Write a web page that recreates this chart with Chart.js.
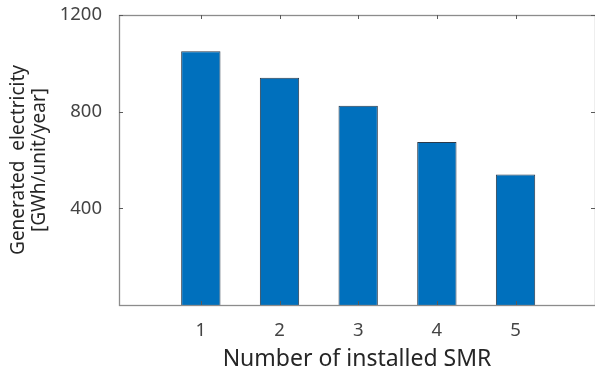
<!DOCTYPE html>
<html>
<head>
<meta charset="utf-8">
<script src="https://cdn.jsdelivr.net/npm/chart.js@4/dist/chart.umd.min.js"></script>
<style>
  html, body { margin: 0; padding: 0; background: #ffffff; }
  #wrap { width: 595px; height: 374px; }
</style>
</head>
<body>
<div id="wrap"><canvas id="c" width="595" height="374"></canvas></div>
<script>
// Installed SMR count vs. electricity generated per unit
const smrCounts = [1, 2, 3, 4, 5];
const generation = [1050, 940, 825, 675, 540];
const yTickValues = [400, 800, 1200];
const xTickValues = [1, 2, 3, 4, 5];

const FONT = '"Noto Sans", "DejaVu Sans", sans-serif';
const AXIS_COLOR = '#8c8c8c';
const TICK_LEN = 4;

// Box around the plot area with inward ticks on all four sides
const boxPlugin = {
  id: 'boxAxes',
  afterDatasetsDraw(chart) {
    const { ctx, chartArea: a, scales: { x, y } } = chart;
    ctx.save();
    ctx.strokeStyle = AXIS_COLOR;
    ctx.lineWidth = 1.3;
    ctx.strokeRect(a.left + 0.5, a.top + 0.5, a.right - a.left, a.bottom - a.top);
    ctx.strokeStyle = '#5a5a5a';
    ctx.lineWidth = 1;
    ctx.beginPath();
    xTickValues.forEach(v => {
      const px = Math.round(x.getPixelForValue(v)) + 0.5;
      ctx.moveTo(px, a.bottom); ctx.lineTo(px, a.bottom - TICK_LEN);
      ctx.moveTo(px, a.top); ctx.lineTo(px, a.top + TICK_LEN);
    });
    yTickValues.forEach(v => {
      const py = Math.round(y.getPixelForValue(v)) + 0.5;
      ctx.moveTo(a.left, py); ctx.lineTo(a.left + TICK_LEN, py);
      ctx.moveTo(a.right, py); ctx.lineTo(a.right - TICK_LEN, py);
    });
    ctx.stroke();
    ctx.restore();
  }
};

new Chart(document.getElementById('c'), {
  type: 'bar',
  data: {
    datasets: [{
      data: smrCounts.map((n, i) => ({ x: n, y: generation[i] })),
      backgroundColor: '#0070BD',
      borderColor: '#2b3a4a',
      borderWidth: 1,
      barPercentage: 1,
      categoryPercentage: 0.5
    }]
  },
  options: {
    responsive: false,
    animation: false,
    events: [],
    layout: { padding: { top: 15, right: 0, bottom: 0, left: 0 } },
    plugins: { legend: { display: false }, tooltip: { enabled: false } },
    scales: {
      x: {
        type: 'linear',
        offset: false,
        min: -0.04,
        max: 6.01,
        afterBuildTicks: s => { s.ticks = xTickValues.map(v => ({ value: v })); },
        afterFit: s => { s.height = 69; s.paddingLeft = 0; s.paddingRight = 0; },
        grid: { display: false, offset: false },
        border: { display: false },
        ticks: {
          padding: 7,
          color: '#444444',
          font: { family: FONT, size: 18.5 },
          callback: v => String(v)
        },
        title: {
          display: true,
          text: 'Number of installed SMR',
          color: '#262626',
          font: { family: FONT, size: 23 },
          padding: { top: 0, bottom: 1 }
        }
      },
      y: {
        min: 0,
        max: 1200,
        afterBuildTicks: s => { s.ticks = yTickValues.map(v => ({ value: v })); },
        afterFit: s => { s.width = 119; s.paddingTop = 0; s.paddingBottom = 0; },
        grid: { display: false },
        border: { display: false },
        ticks: {
          padding: 9,
          color: '#444444',
          font: { family: FONT, size: 18.5 },
          callback: v => String(v)
        },
        title: {
          display: true,
          text: ['Generated  electricity', '[GWh/unit/year]'],
          color: '#262626',
          font: { family: FONT, size: 19, lineHeight: 1.12 },
          padding: { top: 8, bottom: 0 }
        }
      }
    }
  },
  plugins: [boxPlugin]
});
</script>
</body>
</html>
